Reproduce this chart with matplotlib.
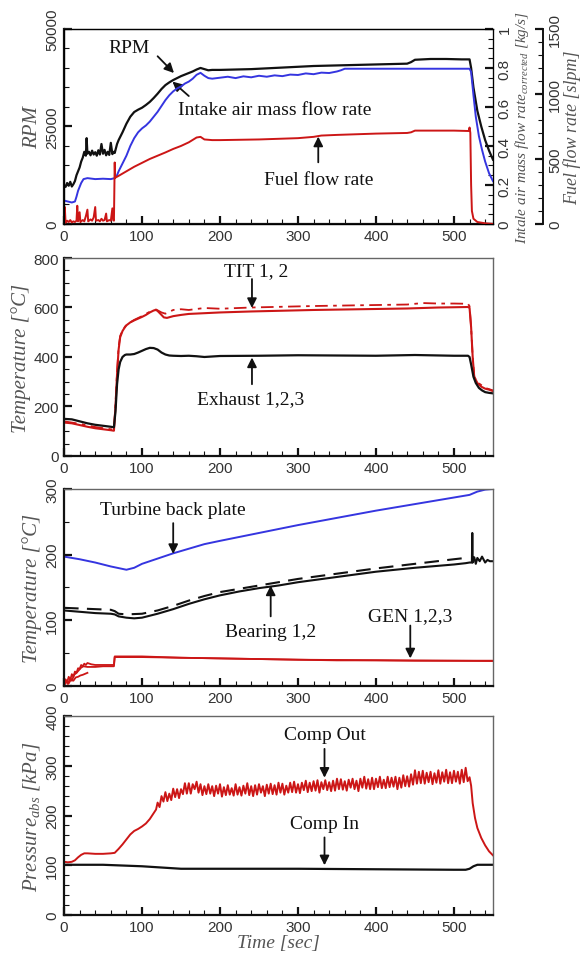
import numpy as np
import matplotlib
matplotlib.use("Agg")
import matplotlib.pyplot as plt
from matplotlib.ticker import MultipleLocator

plt.rcParams['font.family'] = ['Liberation Sans', 'DejaVu Sans']
plt.rcParams['mathtext.fontset'] = 'custom'
plt.rcParams['mathtext.rm'] = 'Liberation Serif:italic'
plt.rcParams['mathtext.it'] = 'Liberation Serif:italic'

# ---------------- panel 1 : speed, air and fuel ----------------
t_rpm = [0, 2, 4, 6, 8, 10, 12, 14, 16, 18, 20, 22, 24, 26, 28, 29, 30, 32, 34, 36,
         38, 40, 42, 44, 46, 48, 50, 52, 54, 56, 58, 60, 62, 64, 65, 68, 70, 75, 80, 85,
         90, 95, 100, 105, 110, 115, 120, 125, 130, 135, 140, 145, 150, 155, 160, 165,
         170, 175, 180, 185, 190, 200, 220, 240, 260, 280, 300, 320, 340, 360, 380, 400,
         420, 440, 445, 450, 470, 490, 510, 520, 522, 525, 530, 535, 540, 545, 550]
rpm = [10000, 9500, 10500, 9800, 10800, 9600, 10200, 11000, 12500, 13500, 14500, 16000,
       17000, 18500, 17500, 22000, 18000, 18500, 17600, 18800, 17800, 18400, 17500, 18900,
       17800, 20500, 18000, 19000, 17600, 18500, 17700, 20800, 17900, 18500, 18200, 20500,
       21500, 23500, 25700, 27500, 28700, 29300, 29800, 30500, 31300, 32300, 33400, 34600,
       35600, 36300, 36900, 37400, 37900, 38300, 38700, 39100, 39600, 40000, 39700, 39400,
       39500, 39500, 39600, 39700, 39900, 40100, 40300, 40500, 40600, 40700, 40800, 40900,
       41000, 41100, 41500, 42100, 42300, 42300, 42200, 42200, 40000, 35000, 29000, 25000,
       21500, 18800, 16500]

t_air = [0, 5, 10, 14, 16, 18, 20, 22, 25, 30, 40, 50, 60, 65, 68, 70, 75, 80, 85, 90, 95,
         100, 105, 110, 115, 120, 125, 130, 135, 140, 145, 150, 155, 160, 165, 170, 175,
         180, 185, 190, 200, 210, 220, 230, 240, 250, 260, 270, 280, 290, 300, 310, 320,
         330, 340, 350, 355, 360, 400, 450, 500, 520, 522, 525, 528, 532, 536, 540, 545, 550]
air = [0.12, 0.115, 0.11, 0.115, 0.14, 0.17, 0.19, 0.21, 0.23, 0.235, 0.23, 0.232, 0.23,
       0.235, 0.25, 0.27, 0.31, 0.35, 0.40, 0.44, 0.47, 0.49, 0.505, 0.525, 0.55, 0.575,
       0.605, 0.635, 0.66, 0.68, 0.695, 0.705, 0.72, 0.73, 0.745, 0.765, 0.775, 0.76,
       0.748, 0.745, 0.75, 0.755, 0.748, 0.757, 0.752, 0.76, 0.755, 0.762, 0.758, 0.766,
       0.764, 0.772, 0.768, 0.776, 0.774, 0.782, 0.788, 0.796, 0.796, 0.796, 0.796, 0.796,
       0.78, 0.66, 0.55, 0.45, 0.38, 0.32, 0.26, 0.22]

t_fuel = [0, 1, 2, 4, 6, 8, 10, 12, 14, 16, 17, 18, 20, 21, 24, 26, 28, 30, 31, 34, 36,
          38, 40, 41, 44, 46, 48, 50, 52, 54, 55, 58, 60, 62, 63, 64, 65, 65.5, 70, 80, 90,
          100, 110, 120, 130, 140, 150, 160, 170, 175, 180, 190, 200, 250, 300, 320, 330,
          350, 400, 440, 445, 450, 500, 519, 520, 521, 522, 523, 525, 530, 540, 550]
fuel = [20, 130, 10, 25, 15, 30, 12, 20, 15, 25, 140, 20, 90, 15, 30, 20, 60, 110, 20,
        35, 25, 50, 130, 25, 30, 20, 40, 25, 30, 80, 20, 30, 25, 120, 30, 25, 473, 355,
        370, 405, 440, 470, 500, 525, 550, 577, 600, 628, 665, 670, 650, 645, 645, 650,
        660, 670, 680, 685, 695, 700, 705, 718, 718, 715, 742, 700, 300, 100, 40, 15, 5, 0]

# ---------------- panel 2 : TIT / exhaust ----------------
t_exh = [0, 10, 20, 30, 40, 50, 60, 64, 66, 68, 70, 72, 75, 78, 80, 85, 90, 95, 100, 105,
         110, 115, 120, 125, 130, 135, 140, 150, 160, 170, 180, 190, 200, 250, 300, 350,
         400, 450, 500, 518, 520, 522, 525, 528, 532, 536, 540, 545, 550]
exhaust = [150, 148, 140, 132, 126, 122, 118, 116, 180, 290, 350, 380, 400, 408, 410, 410,
           412, 418, 425, 432, 437, 436, 430, 418, 410, 406, 405, 404, 405, 403, 400, 402,
           404, 405, 407, 406, 405, 408, 405, 405, 400, 370, 320, 295, 275, 265, 258, 255, 253]

t_tit1 = [0, 10, 20, 30, 40, 50, 60, 64, 66, 68, 70, 72, 75, 78, 80, 85, 90, 95, 100, 105,
          110, 115, 118, 120, 125, 128, 132, 140, 150, 160, 180, 200, 240, 280, 320, 360,
          400, 440, 480, 500, 518, 520, 522, 524, 526, 530, 535, 540, 545, 550]
tit1 = [135, 132, 125, 118, 112, 108, 104, 102, 200, 330, 430, 480, 505, 520, 528, 540,
        548, 555, 562, 570, 580, 588, 590, 586, 570, 560, 558, 565, 570, 574, 577, 580,
        584, 587, 590, 592, 594, 596, 600, 601, 602, 598, 520, 400, 320, 295, 280, 272, 268, 262]

t_tit2 = [0, 20, 40, 60, 64, 66, 68, 70, 72, 75, 80, 90, 100, 110, 118, 125, 130, 140, 150,
          160, 180, 200, 240, 280, 320, 360, 400, 440, 460, 480, 500, 518, 520, 522, 524,
          526, 530, 540, 550]
tit2 = [140, 130, 117, 108, 106, 210, 340, 440, 485, 508, 530, 550, 565, 583, 592, 580,
        575, 590, 593, 590, 598, 595, 600, 603, 606, 608, 610, 612, 618, 616, 616, 615,
        605, 520, 400, 320, 298, 275, 265]

# ---------------- panel 3 : plate, bearings, generator ----------------
t_plate = [0, 20, 40, 60, 80, 90, 100, 120, 140, 160, 180, 200, 250, 300, 350, 400, 450,
           500, 515, 520, 530, 540, 550]
plate = [197, 193, 188, 182, 177, 180, 186, 194, 202, 209, 216, 221, 233, 245, 256, 267,
         277, 287, 290, 291, 296, 299, 300]

t_bear1 = [0, 20, 40, 60, 65, 70, 80, 90, 100, 110, 120, 140, 160, 180, 200, 225, 250,
           275, 300, 350, 400, 450, 500, 515, 520, 523, 523.5, 524, 526, 528, 530, 533,
           536, 540, 543, 546, 550]
bear1 = [115, 113, 111, 110, 109, 106, 104, 103, 104, 107, 110, 117, 125, 132, 138, 144,
         149, 153, 158, 166, 174, 180, 185, 187, 188, 188, 233, 188, 196, 186, 195, 190,
         197, 188, 192, 190, 190]

t_bear2 = [0, 20, 40, 60, 65, 70, 80, 100, 120, 140, 160, 180, 200, 250, 300, 350, 400,
           450, 500, 515, 520]
bear2 = [119, 118, 117, 116, 114, 110, 109, 110, 115, 122, 130, 137, 143, 153, 163, 171,
         179, 186, 193, 195, 195]

t_gen1 = [0, 2, 4, 6, 8, 10, 12, 14, 16, 18, 20, 22, 24, 26, 28, 30, 35, 40, 50, 60, 64,
          65, 100, 150, 200, 250, 300, 350, 400, 450, 500, 550]
gen1 = [5, 10, 6, 14, 9, 18, 14, 22, 20, 27, 26, 32, 30, 34, 32, 35, 33, 32, 32, 32, 32,
        45, 45, 43, 42, 41, 40, 39, 39, 38.5, 38.5, 38.5]
t_gen2 = [0, 3, 5, 8, 10, 13, 16, 19, 22, 25, 30, 40, 50, 60, 64, 65, 100, 200, 300, 550]
gen2 = [0, 8, 3, 12, 8, 17, 20, 24, 28, 30, 29, 29, 30, 30, 30, 44, 44, 42, 40, 38]
t_gen3 = [0, 3, 6, 9, 12, 15, 18, 21, 24, 28, 30]
gen3 = [2, 6, 4, 10, 8, 13, 14, 16, 17, 19, 20]

# ---------------- panel 4 : compressor pressures ----------------
t_cin = [0, 50, 100, 130, 150, 200, 300, 400, 500, 515, 520, 525, 530, 550]
comp_in = [101, 101, 98, 95, 93, 93, 93, 92, 91, 91, 93, 98, 101, 101]

t_cout_a = [0, 5, 10, 14, 18, 22, 26, 30, 40, 50, 60, 65, 70, 75, 80, 85, 90, 95, 100,
            105, 110, 115, 118]
cout_a = [107, 106, 107, 110, 116, 121, 124, 124, 123, 123, 124, 125, 133, 142, 152, 162,
          169, 173, 178, 184, 193, 205, 212]
# noisy part, one value every 2.5 s from 120 s to 517.5 s
cout_b = [226, 217, 239, 228, 247, 229, 244, 231, 254, 237,
          253, 235, 253, 243, 265, 244, 265, 244, 263, 253,
          268, 246, 263, 241, 259, 243, 263, 244, 259, 239,
          260, 244, 263, 238, 257, 241, 261, 242, 255, 240,
          263, 242, 257, 240, 260, 244, 265, 241, 259, 239,
          261, 242, 263, 246, 259, 239, 262, 244, 264, 243,
          261, 242, 266, 246, 264, 242, 260, 246, 266, 247,
          268, 246, 263, 245, 266, 251, 270, 247, 266, 249,
          269, 250, 271, 246, 267, 253, 271, 251, 267, 249,
          270, 250, 274, 253, 273, 252, 269, 250, 272, 256,
          274, 253, 270, 249, 274, 256, 278, 254, 273, 253,
          276, 253, 274, 257, 278, 255, 272, 255, 278, 257,
          276, 258, 278, 253, 276, 256, 281, 259, 279, 258,
          283, 262, 291, 264, 288, 265, 290, 264, 286, 267,
          288, 263, 285, 266, 291, 264, 287, 268, 292, 265,
          287, 265, 290, 268, 288, 264, 292, 267, 296, 269]
t_cout_c = [520, 522, 524, 527, 530, 535, 540, 545, 550]
cout_c = [277, 260, 225, 195, 175, 155, 140, 128, 120]

t_cout_b = np.arange(len(cout_b)) * 2.5 + 120
t_cout = np.concatenate([t_cout_a, t_cout_b, t_cout_c])
comp_out = np.concatenate([cout_a, cout_b, cout_c])

BLACK = '#111111'
BLUE = '#3535e0'
RED = '#cc1616'
TXT = '#333333'
serif = 'Liberation Serif'

fig = plt.figure(figsize=(5.82, 9.54), dpi=100)
axl = 0.110
axw = 0.737
ax1 = fig.add_axes([axl, 0.7642, axw, 0.2044])
ax2 = fig.add_axes([axl, 0.521, axw, 0.2075])
ax3 = fig.add_axes([axl, 0.2799, axw, 0.2065])
ax4 = fig.add_axes([axl, 0.0398, axw, 0.2086])


def style(ax, rot):
    ax.set_xlim(0, 550)
    ax.xaxis.set_major_locator(MultipleLocator(100))
    ax.xaxis.set_minor_locator(MultipleLocator(20))
    ax.tick_params(which='both', direction='in', top=False, right=False,
                   colors=BLACK, labelcolor=TXT, labelsize=11)
    ax.tick_params(which='major', length=6, width=1.6)
    ax.tick_params(which='minor', length=3.5, width=0.8)
    for s in ['left', 'bottom']:
        ax.spines[s].set_linewidth(1.6)
        ax.spines[s].set_color(BLACK)
    for s in ['top', 'right']:
        ax.spines[s].set_linewidth(1.0)
        ax.spines[s].set_color('#666666')
    if rot:
        for lab in ax.get_yticklabels():
            lab.set_rotation(90)
            lab.set_va('center')


def arrow(ax, tail, tip):
    ax.annotate('', xy=tip, xytext=tail,
                arrowprops=dict(arrowstyle='-|>', color=BLACK, lw=1.3,
                                mutation_scale=14, shrinkA=0, shrinkB=0))


def label(ax, x, y, s):
    ax.text(x, y, s, family=serif, fontsize=14, ha='center', va='center', color='#111111')


def frac_fmt(v, p):
    if abs(v) < 1e-9:
        return '0'
    if abs(v - 1) < 1e-9:
        return '1'
    return f'{v:.1f}'


# panel 1
ax1.plot(t_rpm, rpm, color=BLACK, lw=1.6, zorder=4)
ax1.set_ylim(0, 50000)
ax1.yaxis.set_major_locator(MultipleLocator(25000))
ax1.yaxis.set_minor_locator(MultipleLocator(5000))
ax1.set_ylabel('RPM', family=serif, style='italic', fontsize=15, color='#555555', labelpad=2)

ax1b = ax1.twinx()
ax1b.plot(t_air, air, color=BLUE, lw=1.4, zorder=3)
ax1b.set_ylim(0, 1)
ax1b.yaxis.set_major_locator(MultipleLocator(0.2))
ax1b.yaxis.set_minor_locator(MultipleLocator(0.05))
ax1b.yaxis.set_major_formatter(frac_fmt)
ax1b.tick_params(which='both', direction='in', colors=BLACK, labelcolor=TXT, labelsize=11)
ax1b.tick_params(which='major', length=6, width=1.6)
ax1b.tick_params(which='minor', length=3.5, width=0.8)
ax1b.set_ylabel('Intale air mass flow rate$_{corrected}$ [kg/s]', family=serif,
                style='italic', fontsize=11, color='#555555', labelpad=1)

ax1c = ax1.twinx()
ax1c.spines['right'].set_position(('axes', 1.117))
ax1c.plot(t_fuel, fuel, color=RED, lw=1.4, zorder=2)
ax1c.set_ylim(0, 1500)
ax1c.yaxis.set_major_locator(MultipleLocator(500))
ax1c.yaxis.set_minor_locator(MultipleLocator(100))
ax1c.tick_params(which='both', direction='in', colors=BLACK, labelcolor=TXT, labelsize=11)
ax1c.tick_params(which='major', length=6, width=1.6)
ax1c.tick_params(which='minor', length=3.5, width=0.8)
ax1c.spines['right'].set_linewidth(1.4)
ax1c.spines['right'].set_color(BLACK)
ax1c.set_ylabel('Fuel flow rate [slpm]', family=serif, style='italic', fontsize=13,
                color='#555555', labelpad=1)
for a in (ax1b, ax1c):
    for lab in a.get_yticklabels():
        lab.set_rotation(90)
        lab.set_va('center')
style(ax1, True)

label(ax1, 84, 45200, 'RPM')
arrow(ax1, (120, 43000), (141, 38700))
label(ax1, 270, 29400, 'Intake air mass flow rate')
arrow(ax1, (160, 32800), (139, 36500))
label(ax1, 326, 11500, 'Fuel flow rate')
arrow(ax1, (326, 15800), (326, 22400))

# panel 2
ax2.plot(t_tit2, tit2, color=RED, lw=1.3, dashes=(7, 3, 2, 3))
ax2.plot(t_tit1, tit1, color=RED, lw=1.5)
ax2.plot(t_exh, exhaust, color=BLACK, lw=1.6)
ax2.set_ylim(0, 800)
ax2.yaxis.set_major_locator(MultipleLocator(200))
ax2.yaxis.set_minor_locator(MultipleLocator(50))
ax2.set_ylabel('Temperature [°C]', family=serif, style='italic', fontsize=15,
               color='#555555', labelpad=2)
style(ax2, False)
label(ax2, 246, 750, 'TIT 1, 2')
arrow(ax2, (241, 715), (241, 598))
label(ax2, 239, 231, 'Exhaust 1,2,3')
arrow(ax2, (241, 290), (241, 398))

# panel 3
ax3.plot(t_plate, plate, color=BLUE, lw=1.4)
ax3.plot(t_bear2, bear2, color=BLACK, lw=1.5, dashes=(7, 4))
ax3.plot(t_bear1, bear1, color=BLACK, lw=1.5)
ax3.plot(t_gen3, gen3, color=RED, lw=1.3)
ax3.plot(t_gen2, gen2, color=RED, lw=1.3)
ax3.plot(t_gen1, gen1, color=RED, lw=1.3)
ax3.set_ylim(0, 300)
ax3.yaxis.set_major_locator(MultipleLocator(100))
ax3.yaxis.set_minor_locator(MultipleLocator(50))
ax3.set_ylabel('Temperature [°C]', family=serif, style='italic', fontsize=15,
               color='#555555', labelpad=2)
style(ax3, True)
label(ax3, 140, 268, 'Turbine back plate')
arrow(ax3, (140, 248), (140, 201))
label(ax3, 265, 83, 'Bearing 1,2')
arrow(ax3, (265, 106), (265, 153))
label(ax3, 444, 107, 'GEN 1,2,3')
arrow(ax3, (444, 92), (444, 42))

# panel 4
ax4.plot(t_cout, comp_out, color=RED, lw=1.4)
ax4.plot(t_cin, comp_in, color=BLACK, lw=1.6)
ax4.set_ylim(0, 400)
ax4.yaxis.set_major_locator(MultipleLocator(100))
ax4.yaxis.set_minor_locator(MultipleLocator(20))
ax4.set_ylabel('Pressure$_{abs}$ [kPa]', family=serif, style='italic', fontsize=15,
               color='#555555', labelpad=2)
ax4.set_xlabel('Time [sec]', family=serif, style='italic', fontsize=14,
               color='#555555', labelpad=0)
style(ax4, True)
label(ax4, 334, 362, 'Comp Out')
arrow(ax4, (334, 334), (334, 276))
label(ax4, 334, 184, 'Comp In')
arrow(ax4, (334, 156), (334, 100))

fig.savefig('out.png', dpi=100)
